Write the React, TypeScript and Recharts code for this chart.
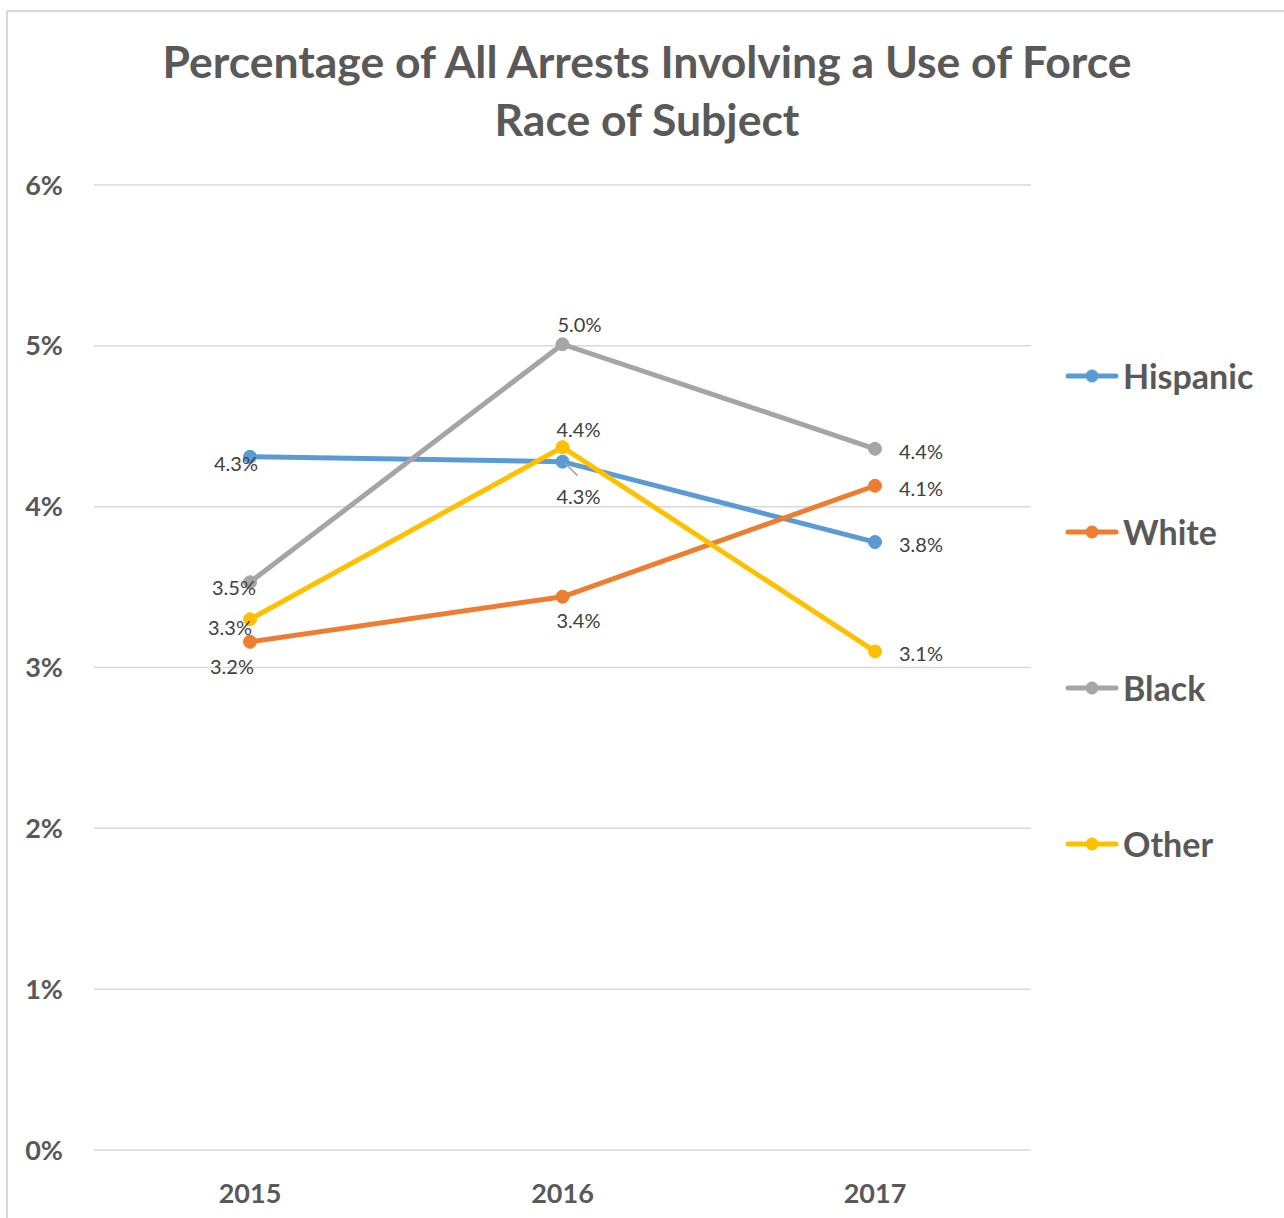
import React from 'react'
import {
  LineChart, Line, XAxis, YAxis, CartesianGrid, LabelList, Legend,
} from 'recharts'

const years    = ['2015', '2016', '2017']
const hispanic = [4.31, 4.28, 3.78]
const white    = [3.16, 3.44, 4.13]
const black    = [3.53, 5.01, 4.36]
const other    = [3.30, 4.37, 3.10]
const yTicks   = [0, 1, 2, 3, 4, 5, 6]

const titleLines = ['Percentage of All Arrests Involving a Use of Force', 'Race of Subject']

const series = [
  { key: 'Hispanic', values: hispanic, color: '#5B9BD5' },
  { key: 'White',    values: white,    color: '#ED7D31' },
  { key: 'Black',    values: black,    color: '#A5A5A5' },
  { key: 'Other',    values: other,    color: '#FFC000' },
]

// where each data label sits relative to its point (dx, dy), like the hand-moved Excel labels
const labelOffsets: Record<string, [number, number][]> = {
  Hispanic: [[-14, 6], [16, 34], [46, 2]],
  White:    [[-18, 24], [16, 23], [46, 2]],
  Black:    [[-16, 5], [17, -20], [46, 2]],
  Other:    [[-20, 8], [16, -18], [46, 2]],
}

const FONT = 'Lato, "Open Sans", sans-serif'
const GREY = '#595959'

const data = years.map((year, i) => {
  const row: Record<string, string | number> = { year }
  series.forEach(s => { row[s.key] = s.values[i] })
  return row
})

function makeLabel(key: string) {
  return (props: any) => {
    const { x, y, value, index } = props
    if (x == null || y == null || value == null) return null
    const [dx, dy] = labelOffsets[key][index] ?? [0, -16]
    return (
      <g>
        {key === 'Hispanic' && index === 1 && (
          <line x1={x + 3} y1={y + 2} x2={x + 15} y2={y + 14} stroke="#A6A6A6" strokeWidth={1.5} />
        )}
        <text
          x={x + dx}
          y={y + dy}
          textAnchor="middle"
          dominantBaseline="central"
          fontFamily={FONT}
          fontSize={20}
          fill="#404040"
        >
          {Number(value).toFixed(1)}%
        </text>
      </g>
    )
  }
}

// legend keeps the series order (recharts would sort it by name)
function LegendContent() {
  return (
    <div>
      {series.map(s => (
        <div key={s.key} style={{ display: 'flex', alignItems: 'center', height: 156 }}>
          <svg width={56} height={16} style={{ marginRight: 3 }}>
            <line x1={4} y1={8} x2={52} y2={8} stroke={s.color} strokeWidth={5} strokeLinecap="round" />
            <circle cx={28} cy={8} r={6.5} fill={s.color} />
          </svg>
          <span style={{ fontFamily: FONT, fontWeight: 700, fontSize: 34, color: GREY, lineHeight: 1 }}>
            {s.key}
          </span>
        </div>
      ))}
    </div>
  )
}

export default function App() {
  return (
    <div style={{ position: 'absolute', left: 0, top: 0, width: 1284, height: 1218, overflow: 'hidden', background: '#fff' }}>
      <div style={{ position: 'absolute', left: 6, top: 10, width: 1320, height: 1320, border: '2px solid #D9D9D9' }} />
      <div style={{ position: 'absolute', left: 0, top: 32, width: 1294, textAlign: 'center', fontFamily: FONT, fontWeight: 700, fontSize: 44.5, lineHeight: '58px', color: GREY }}>
        {titleLines.map(t => <div key={t}>{t}</div>)}
      </div>
      <div style={{ position: 'absolute', left: 0, top: 0 }}>
        <LineChart width={1284} height={1218} data={data} margin={{ top: 185, right: 253, bottom: 28, left: 0 }}>
          <CartesianGrid vertical={false} stroke="#D9D9D9" strokeWidth={1.5} />
          <XAxis
            dataKey="year"
            height={40}
            axisLine={false}
            tickLine={false}
            padding={{ left: 156, right: 156 }}
            tickMargin={28}
            tick={{ fontFamily: FONT, fontSize: 27, fontWeight: 700, fill: GREY }}
          />
          <YAxis
            width={94}
            domain={[0, 6]}
            ticks={yTicks}
            axisLine={false}
            tickLine={false}
            tickMargin={25}
            tickFormatter={(v: number) => `${v}%`}
            tick={{ fontFamily: FONT, fontSize: 27, fontWeight: 700, fill: GREY }}
          />
          <Legend
            layout="vertical"
            align="center"
            verticalAlign="middle"
            content={<LegendContent />}
            wrapperStyle={{ left: 1064, top: 298, width: 220 }}
          />
          {series.map(s => (
            <Line
              key={s.key}
              dataKey={s.key}
              name={s.key}
              stroke={s.color}
              strokeWidth={5}
              dot={{ r: 6.5, fill: s.color, stroke: s.color, strokeWidth: 1 }}
              activeDot={false}
              isAnimationActive={false}
            >
              <LabelList dataKey={s.key} content={makeLabel(s.key)} />
            </Line>
          ))}
        </LineChart>
      </div>
    </div>
  )
}
